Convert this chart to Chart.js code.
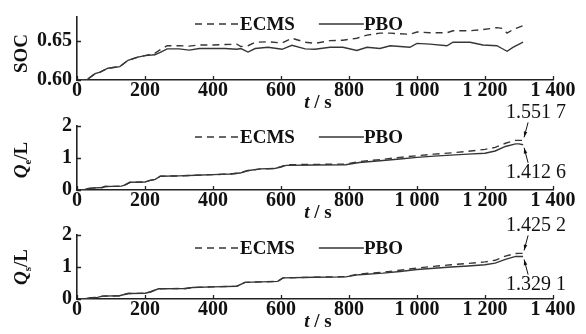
<!DOCTYPE html>
<html>
<head>
<meta charset="utf-8">
<script src="https://cdn.jsdelivr.net/npm/chart.js@4.4.0/dist/chart.umd.min.js"></script>
<style>
  body { margin: 0; background: #fff; }
  #wrap { position: relative; width: 586px; height: 334px; overflow: hidden; }
  canvas { position: absolute; left: 0; }
</style>
</head>
<body>
<div id="wrap">
  <canvas id="socChart" width="586" height="115" style="top:0px"></canvas>
  <canvas id="qeChart" width="586" height="120" style="top:100px"></canvas>
  <canvas id="qsChart" width="586" height="124" style="top:210px"></canvas>
</div>
<script>
// 系列名・軸目盛
var seriesNames = ['ECMS', 'PBO'];
var timeTicks = [0, 200, 400, 600, 800, 1000, 1200, 1400];
var timeTickLabels = ['0', '200', '400', '600', '800', '1 000', '1 200', '1 400'];

// SOC
var socTime = [0, 28, 53, 68, 91, 126, 150, 179, 200, 229, 245, 265, 300, 330, 360, 400, 435, 470, 482, 503, 524, 562, 603, 632, 671, 700, 744, 782, 823, 853, 891, 921, 979, 1000, 1038, 1088, 1106, 1156, 1194, 1235, 1250, 1265, 1282, 1312];
var socEcms = [0.600, 0.600, 0.608, 0.610, 0.615, 0.617, 0.625, 0.629, 0.631, 0.634, 0.6385, 0.6435, 0.6435, 0.643, 0.6445, 0.6445, 0.645, 0.6455, 0.6425, 0.6435, 0.648, 0.6485, 0.647, 0.653, 0.648, 0.6465, 0.650, 0.6505, 0.653, 0.657, 0.6595, 0.6595, 0.658, 0.661, 0.660, 0.660, 0.6625, 0.6625, 0.664, 0.6665, 0.6655, 0.6595, 0.664, 0.669];
var socPbo = [0.600, 0.600, 0.608, 0.610, 0.615, 0.617, 0.625, 0.629, 0.631, 0.632, 0.635, 0.6395, 0.6395, 0.638, 0.640, 0.640, 0.640, 0.639, 0.640, 0.6355, 0.640, 0.6415, 0.639, 0.644, 0.6395, 0.639, 0.6415, 0.6415, 0.6375, 0.6415, 0.640, 0.6435, 0.6415, 0.6465, 0.6455, 0.6435, 0.648, 0.648, 0.6445, 0.6435, 0.640, 0.6365, 0.6415, 0.648];
var socTicks = [0.60, 0.65];
var socTickLabels = ['0.60', '0.65'];

// Qe
var qeTime = [0, 20, 30, 44, 75, 82, 130, 140, 156, 200, 215, 230, 245, 300, 350, 400, 450, 480, 500, 540, 580, 600, 615, 700, 790, 830, 900, 950, 1000, 1050, 1100, 1150, 1200, 1230, 1260, 1290, 1300, 1312];
var qeEcms = [0, 0, 0.04, 0.06, 0.08, 0.11, 0.12, 0.15, 0.24, 0.25, 0.30, 0.33, 0.43, 0.44, 0.46, 0.48, 0.50, 0.53, 0.60, 0.66, 0.67, 0.73, 0.79, 0.80, 0.81, 0.89, 0.96, 1.02, 1.07, 1.12, 1.16, 1.21, 1.27, 1.33, 1.46, 1.55, 1.5517, 1.5517];
var qePbo = [0, 0, 0.04, 0.06, 0.08, 0.11, 0.12, 0.15, 0.24, 0.25, 0.30, 0.33, 0.43, 0.44, 0.46, 0.48, 0.50, 0.53, 0.60, 0.66, 0.67, 0.72, 0.77, 0.78, 0.79, 0.86, 0.92, 0.97, 1.02, 1.06, 1.09, 1.12, 1.15, 1.22, 1.36, 1.44, 1.44, 1.4126];
var qeEndLabels = ['1.551 7', '1.412 6'];

// Qs
var qsTime = [0, 20, 40, 60, 75, 125, 150, 200, 215, 240, 320, 340, 400, 470, 494, 590, 606, 700, 790, 830, 900, 950, 1000, 1050, 1100, 1150, 1200, 1230, 1260, 1290, 1300, 1312];
var qsEcms = [0, 0, 0.04, 0.05, 0.09, 0.10, 0.17, 0.18, 0.22, 0.32, 0.33, 0.36, 0.38, 0.40, 0.52, 0.55, 0.66, 0.68, 0.70, 0.78, 0.84, 0.90, 0.97, 1.02, 1.07, 1.11, 1.16, 1.21, 1.34, 1.42, 1.4252, 1.4252];
var qsPbo = [0, 0, 0.04, 0.05, 0.09, 0.10, 0.17, 0.18, 0.22, 0.32, 0.33, 0.36, 0.38, 0.40, 0.52, 0.55, 0.66, 0.68, 0.69, 0.76, 0.81, 0.86, 0.92, 0.96, 1.00, 1.03, 1.07, 1.12, 1.24, 1.33, 1.33, 1.3291];
var qsEndLabels = ['1.425 2', '1.329 1'];
var qTicks = [0, 1, 2];
var qTickLabels = ['0', '1', '2'];

var FONT = '"Liberation Serif", "Times New Roman", serif';
var INK = '#111';
var LINE = '#363636';

function pts(t, v) {
  return t.map(function (x, i) { return { x: x, y: v[i] }; });
}

// 斜体・下付きを含む文字列を描く（中心基準）
function drawParts(ctx, parts, size) {
  var fonts = parts.map(function (p) {
    return (p.italic ? 'italic ' : '') + 'bold ' + (p.sub ? Math.round(size * 0.6) : size) + 'px ' + FONT;
  });
  var widths = parts.map(function (p, i) { ctx.font = fonts[i]; return ctx.measureText(p.text).width; });
  var total = widths.reduce(function (a, b) { return a + b; }, 0);
  var x = -total / 2;
  ctx.textAlign = 'left';
  ctx.textBaseline = 'middle';
  parts.forEach(function (p, i) {
    ctx.font = fonts[i];
    ctx.fillText(p.text, x, p.sub ? size * 0.32 : 0);
    x += widths[i];
  });
}

function arrow(ctx, x1, y1, x2, y2) {
  ctx.beginPath();
  ctx.moveTo(x1, y1);
  ctx.lineTo(x2, y2);
  ctx.stroke();
  var a = Math.atan2(y2 - y1, x2 - x1);
  ctx.beginPath();
  ctx.moveTo(x2, y2);
  ctx.lineTo(x2 - 6 * Math.cos(a - 0.3), y2 - 6 * Math.sin(a - 0.3));
  ctx.lineTo(x2 - 6 * Math.cos(a + 0.3), y2 - 6 * Math.sin(a + 0.3));
  ctx.closePath();
  ctx.fill();
}

// 内向きの目盛線
var inwardTicks = {
  id: 'inwardTicks',
  afterDraw: function (chart) {
    var ctx = chart.ctx, xs = chart.scales.x, ys = chart.scales.y;
    ctx.save();
    ctx.strokeStyle = '#222';
    ctx.lineWidth = 1.3;
    ctx.beginPath();
    xs.ticks.forEach(function (t) {
      var px = Math.round(xs.getPixelForValue(t.value)) + 0.5;
      ctx.moveTo(px, xs.top);
      ctx.lineTo(px, xs.top - 4);
    });
    ys.ticks.forEach(function (t) {
      var py = Math.round(ys.getPixelForValue(t.value)) + 0.5;
      ctx.moveTo(ys.right, py);
      ctx.lineTo(ys.right + 4, py);
    });
    ctx.stroke();
    ctx.restore();
  }
};

// 凡例・軸タイトル・注記
var panelText = {
  id: 'panelText',
  afterDraw: function (chart, args, o) {
    var ctx = chart.ctx, area = chart.chartArea;
    ctx.save();
    ctx.fillStyle = INK;
    ctx.strokeStyle = LINE;

    // 凡例
    var lx = 195, ly = area.top + o.legendDy;
    chart.data.datasets.forEach(function (ds) {
      ctx.lineWidth = 1.4;
      ctx.setLineDash(ds.borderDash || []);
      ctx.beginPath();
      ctx.moveTo(lx, ly);
      ctx.lineTo(lx + 45, ly);
      ctx.stroke();
      ctx.setLineDash([]);
      ctx.font = 'bold 19px ' + FONT;
      ctx.textAlign = 'left';
      ctx.textBaseline = 'middle';
      ctx.fillText(ds.label, lx + 45, ly + 1);
      lx += 45 + ctx.measureText(ds.label).width + 24;
    });

    // y 軸タイトル
    ctx.save();
    ctx.translate(22, (area.top + area.bottom) / 2 + o.yTitleDy);
    ctx.rotate(-Math.PI / 2);
    drawParts(ctx, o.yTitle, 19);
    ctx.restore();

    // x 軸タイトル
    ctx.save();
    ctx.translate((area.left + area.right) / 2 + 3, area.bottom + 23);
    drawParts(ctx, [{ text: 't', italic: true }, { text: ' / s' }], 19);
    ctx.restore();

    // 終端値の注記
    if (o.endLabels) {
      ctx.lineWidth = 1;
      ctx.strokeStyle = '#111';
      chart.data.datasets.forEach(function (ds, i) {
        var last = ds.data[ds.data.length - 1];
        var px = chart.scales.x.getPixelForValue(last.x);
        var py = chart.scales.y.getPixelForValue(last.y);
        var s = i === 0 ? -1 : 1;
        arrow(ctx, px + 5, py + s * 18, px + 1, py + s * 3);
        ctx.font = '20px ' + FONT;
        ctx.textAlign = 'center';
        ctx.textBaseline = 'middle';
        ctx.fillText(o.endLabels[i], px + 13, py + s * 28);
      });
    }
    ctx.restore();
  }
};

function makePanel(id, p) {
  var canvas = document.getElementById(id);
  var h = canvas.height;
  return new Chart(canvas, {
    type: 'line',
    data: {
      datasets: [
        { label: seriesNames[0], data: pts(p.time, p.ecms), borderColor: LINE, borderWidth: 1.4, borderDash: [7, 5], pointRadius: 0, tension: 0 },
        { label: seriesNames[1], data: pts(p.time, p.pbo), borderColor: LINE, borderWidth: 1.4, pointRadius: 0, tension: 0 }
      ]
    },
    options: {
      responsive: false,
      animation: false,
      events: [],
      layout: { padding: { left: 0, right: 33, top: p.top, bottom: 0 } },
      plugins: {
        legend: { display: false },
        tooltip: { enabled: false },
        panelText: { legendDy: p.legendDy, yTitle: p.yTitle, yTitleDy: p.yTitleDy, endLabels: p.endLabels }
      },
      scales: {
        x: {
          type: 'linear', min: 0, max: 1400,
          grid: { display: false, drawTicks: false },
          border: { display: true, color: '#222', width: 1.6 },
          afterBuildTicks: function (s) { s.ticks = timeTicks.map(function (v) { return { value: v }; }); },
          afterFit: function (s) { s.height = h - p.bottom; },
          ticks: {
            color: INK, padding: -1, maxRotation: 0, autoSkip: false,
            font: { family: FONT, size: 20, weight: 'bold' },
            callback: function (v) { return timeTickLabels[timeTicks.indexOf(v)]; }
          }
        },
        y: {
          type: 'linear', min: p.yMin, max: p.yMax,
          grid: { display: false, drawTicks: false },
          border: { display: true, color: '#222', width: 1.6 },
          afterBuildTicks: function (s) { s.ticks = p.yTicks.map(function (v) { return { value: v }; }); },
          afterFit: function (s) { s.width = 77; },
          ticks: {
            color: INK, padding: 5, autoSkip: false,
            font: { family: FONT, size: 20, weight: 'bold' },
            callback: function (v) { return p.yTickLabels[p.yTicks.indexOf(v)]; }
          }
        }
      }
    },
    plugins: [inwardTicks, panelText]
  });
}

makePanel('socChart', {
  time: socTime, ecms: socEcms, pbo: socPbo,
  yMin: 0.60, yMax: 0.68, yTicks: socTicks, yTickLabels: socTickLabels,
  top: 15, bottom: 80, legendDy: 7, yTitleDy: 5,
  yTitle: [{ text: 'SOC' }]
});
makePanel('qeChart', {
  time: qeTime, ecms: qeEcms, pbo: qePbo,
  yMin: 0, yMax: 2, yTicks: qTicks, yTickLabels: qTickLabels,
  top: 26, bottom: 90, legendDy: 11, yTitleDy: 2,
  yTitle: [{ text: 'Q', italic: true }, { text: 'e', sub: true }, { text: '/L' }],
  endLabels: qeEndLabels
});
makePanel('qsChart', {
  time: qsTime, ecms: qsEcms, pbo: qsPbo,
  yMin: 0, yMax: 2, yTicks: qTicks, yTickLabels: qTickLabels,
  top: 25, bottom: 89, legendDy: 13, yTitleDy: 0,
  yTitle: [{ text: 'Q', italic: true }, { text: 's', sub: true }, { text: '/L' }],
  endLabels: qsEndLabels
});
</script>
</body>
</html>
